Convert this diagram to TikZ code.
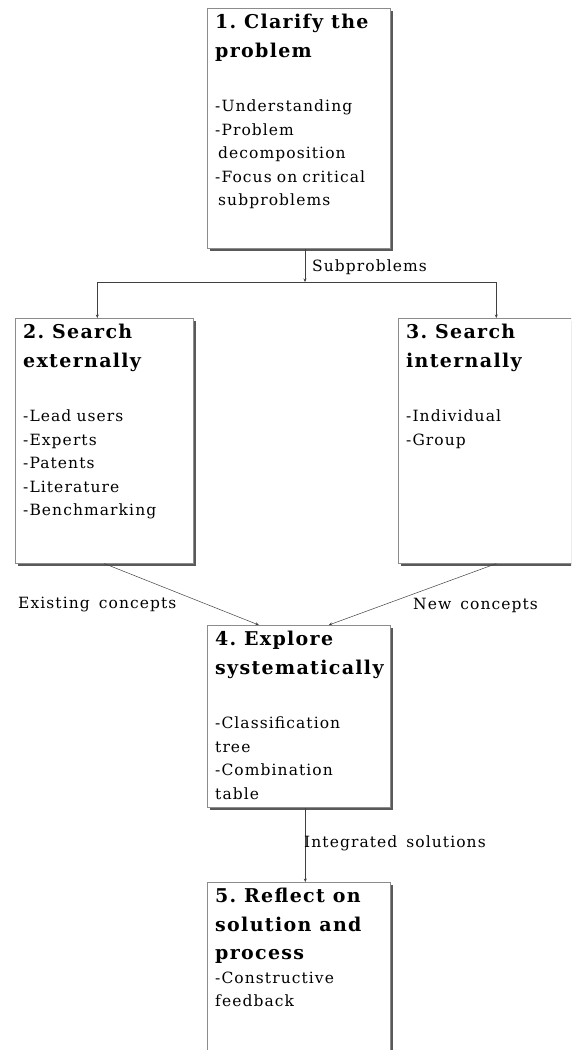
\documentclass[tikz,border=0pt]{standalone}
\usepackage{fontspec}
\setmainfont{DejaVu Serif}[LetterSpace=7, WordSpace=1.5]
\usetikzlibrary{shadows,arrows.meta}
\tikzset{
  stage/.style={draw=black!45, line width=0.6pt, fill=white, anchor=north west, inner sep=0pt,
    drop shadow={shadow xshift=2.5pt, shadow yshift=-2.5pt, fill=black!65, opacity=1}},
  stagetext/.style={anchor=north west, align=left, inner xsep=8pt, inner ysep=6pt,
    text width=178pt, font=\fontsize{15.5}{23.5}\selectfont},
  flow/.style={-{Stealth[length=3.5pt,width=3pt]}, black!75, line width=0.5pt},
  flowlabel/.style={anchor=west, inner sep=0pt, font=\fontsize{15.5}{18}\selectfont}
}
\newcommand{\stagetitle}[1]{{\fontsize{19}{28.5}\selectfont\bfseries\spaceskip=8pt #1\par}}
\begin{document}
\begin{tikzpicture}[x=1pt, y=-1pt]
\useasboundingbox (0,0) rectangle (571,1050);
\clip (0,0) rectangle (571,1050);

% stages
\node[stage, minimum width=183pt, minimum height=240pt] (clarify)  at (207,8)   {};
\node[stage, minimum width=178pt, minimum height=245pt] (external) at (15,318)  {};
\node[stage, minimum width=196pt, minimum height=245pt] (internal) at (398,318) {};
\node[stage, minimum width=183pt, minimum height=182pt] (explore)  at (207,625) {};
\node[stage, minimum width=183pt, minimum height=220pt] (reflect)  at (207,882) {};

\node[stagetext] (clarifytext) at (clarify.north west) {%
  \stagetitle{1. Clarify the\\problem}\vspace{31pt}
  -Understanding\\
  -Problem\\
  \hspace*{3pt}decomposition\\
  -Focus on critical\\
  \hspace*{3pt}subproblems};
\node[stagetext] (externaltext) at (external.north west) {%
  \stagetitle{2. Search\\externally}\vspace{31pt}
  -Lead users\\
  -Experts\\
  -Patents\\
  -Literature\\
  -Benchmarking};
\node[stagetext] (internaltext) at (internal.north west) {%
  \stagetitle{3. Search\\internally}\vspace{31pt}
  -Individual\\
  -Group};
\node[stagetext] (exploretext) at (explore.north west) {%
  \stagetitle{4. Explore\\systematically}\vspace{31pt}
  -Classification\\
  tree\\
  -Combination\\
  table};
\node[stagetext] (reflecttext) at (reflect.north west) {%
  \stagetitle{5. Reflect on\\solution and\\process}
  -Constructive\\
  feedback};

% connectors
\coordinate (split) at (305,282);
\draw[flow] (clarify.south -| split) -- (split);
\draw[flow] (split) -| ([xshift=-7pt]external.north);
\draw[flow] (split) -| (internal.north);
\draw[flow] (external.south) -- ([xshift=-40pt]explore.north);
\draw[flow] (internal.south) -- ([xshift=30pt]explore.north);
\draw[flow] ([xshift=6.5pt]explore.south) -- ([xshift=6.5pt]reflect.north);

\node[flowlabel] (subproblems) at (312,267) {Subproblems};
\node[flowlabel] (existing)    at (18,605)  {Existing concepts};
\node[flowlabel] (new)         at (413,605) {New concepts};
\node[flowlabel] (integrated)  at (304,843) {Integrated solutions};
\end{tikzpicture}
\end{document}
